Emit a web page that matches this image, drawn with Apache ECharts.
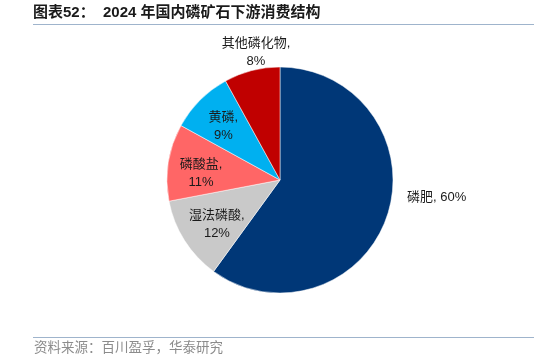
<!DOCTYPE html>
<html><head><meta charset="utf-8">
<script src="https://cdn.jsdelivr.net/npm/echarts@6/dist/echarts.min.js"></script>
<style>html,body{margin:0;padding:0;background:#fff}#c{width:534px;height:361px}</style>
</head><body><div id="c"></div>
<script>
const categories = ['磷肥', '湿法磷酸', '磷酸盐', '黄磷', '其他磷化物'];
const values = [60, 12, 11, 9, 8];
const colors = ['#003777', '#c9c9c9', '#ff6666', '#00b0f0', '#c00000'];
const titleText = '图表52：  2024 年国内磷矿石下游消费结构';
const sourceText = '资料来源：百川盈孚，华泰研究';
const FONT = "'Liberation Sans','Noto Sans CJK SC',sans-serif";

const chart = echarts.init(document.getElementById('c'), null, {renderer: 'canvas'});
const data = categories.map((n, i) => ({name: n, value: values[i], itemStyle: {color: colors[i]}}));
const insideIdx = [1, 2, 3];
const insideShift = {1: [7, 0], 2: [3, 6], 3: [2, 5]};

chart.setOption({
  animation: false,
  graphic: [
    {type: 'text', left: 33, top: 5, style: {text: titleText, font: "bold 15px " + FONT, fill: '#1a1a1a'}},
    {type: 'line', shape: {x1: 33, y1: 24.5, x2: 534, y2: 24.5}, style: {stroke: '#9fb4cc', lineWidth: 1}},
    {type: 'line', shape: {x1: 33, y1: 337.5, x2: 534, y2: 337.5}, style: {stroke: '#9fb4cc', lineWidth: 1}},
    {type: 'text', left: 34, top: 342, style: {text: sourceText, font: "13.5px " + FONT, fill: '#8c8c8c'}}
  ],
  series: [
    {
      type: 'pie', center: [280, 180], radius: [0, 113], startAngle: 90, clockwise: true,
      avoidLabelOverlap: false,
      itemStyle: {borderColor: '#ffffff', borderWidth: 0.5},
      label: {show: true, position: 'outside', formatter: p => p.dataIndex === 0 ? p.name + ', ' + p.value + '%' : p.name + ',\n' + p.value + '%',
        fontFamily: FONT, fontSize: 13, color: '#1a1a1a', lineHeight: 18, align: 'center'},
      labelLine: {show: false},
      labelLayout: function (p) {
        if (p.dataIndex === 0) return {x: 407, y: 197, align: 'left', verticalAlign: 'middle'};
        if (p.dataIndex === 4) return {x: 256, y: 52, align: 'center', verticalAlign: 'middle'};
        return {};
      },
      data: data.map((d, i) => Object.assign({}, d, {label: {show: !insideIdx.includes(i)}})),
      silent: true
    },
    {
      type: 'pie', center: [280, 180], radius: [47, 113], startAngle: 90, clockwise: true,
      avoidLabelOverlap: false, silent: true, z: 3,
      itemStyle: {color: 'rgba(0,0,0,0)'},
      label: {show: true, position: 'inside', formatter: p => p.name + ',\n' + p.value + '%',
        fontFamily: FONT, fontSize: 13, color: '#1a1a1a', lineHeight: 18, align: 'center'},
      labelLine: {show: false},
      labelLayout: function (p) {
        const s = insideShift[p.dataIndex];
        return s ? {dx: s[0], dy: s[1]} : {};
      },
      data: categories.map((n, i) => ({name: n, value: values[i], label: {show: insideIdx.includes(i)}}))
    }
  ]
});
</script></body></html>
